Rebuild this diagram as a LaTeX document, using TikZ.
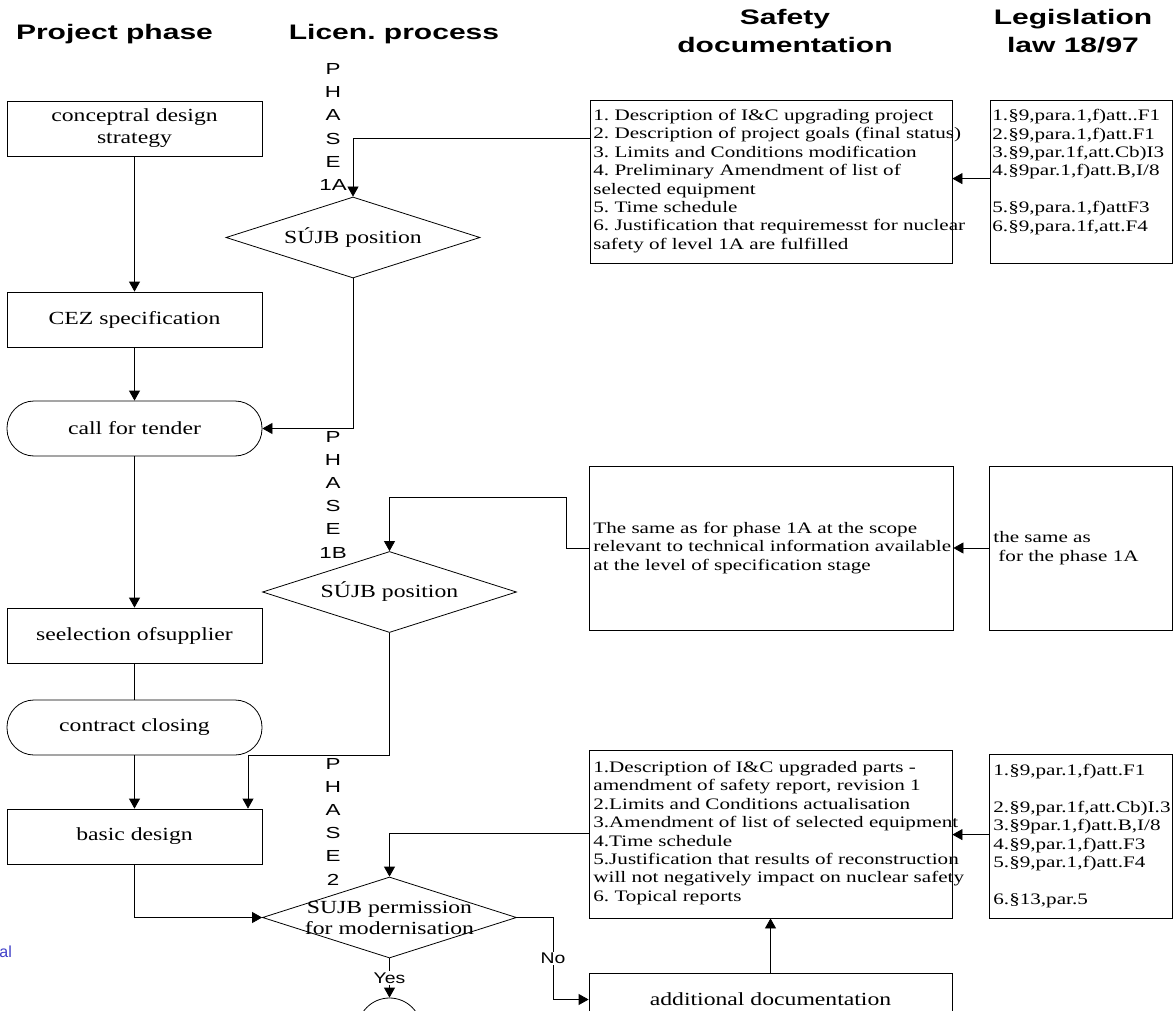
\documentclass[tikz,border=0pt]{standalone}
\usepackage{fontspec}
\setmainfont{Liberation Serif}
\newfontfamily\docfam[FakeStretch=1.32]{Liberation Serif}
\newfontfamily\boxfam[FakeStretch=1.28]{Liberation Serif}
\newfontfamily\hdrfam[FakeStretch=1.43]{Liberation Sans}
\newfontfamily\phfam[FakeStretch=1.4]{Liberation Sans}
\newfontfamily\ynfam[FakeStretch=1.25]{Liberation Sans}
\newfontfamily\alfam{Liberation Sans}
\usetikzlibrary{shapes.geometric,arrows.meta,calc}
\definecolor{alblue}{RGB}{64,64,200}
\frenchspacing
\tikzset{
  arr/.style={-{Triangle[length=10pt,width=11pt]}},
  hdr/.style={font={\hdrfam\bfseries\fontsize{21}{28}\selectfont}, inner sep=0pt, align=center},
  pbox/.style={draw, rectangle, minimum width=255pt, minimum height=55pt, inner sep=0pt,
    font={\boxfam\fontsize{18.5}{22}\selectfont}, align=center},
  stad/.style={pbox, rounded corners=27pt},
  dia/.style={draw, diamond, aspect=3.15, minimum width=254pt, minimum height=81pt, inner sep=0pt,
    font={\boxfam\fontsize{18.5}{21}\selectfont}, align=center},
  dbox/.style={draw, rectangle, inner sep=0pt},
  dtxt/.style={anchor=west, inner sep=0pt, align=left, font={\docfam\fontsize{16}{18.4}\selectfont\frenchspacing}},
  phase/.style={inner sep=0pt, align=center, font={\phfam\fontsize{16}{23.2}\selectfont}},
  yn/.style={fill=white, inner sep=1.5pt, font={\ynfam\fontsize{15.5}{15.5}\selectfont}},
}
\begin{document}
\begin{tikzpicture}[x=1pt,y=-1pt,line width=0.8pt]
\useasboundingbox (0,0) rectangle (1173,1011);
\clip (0,0) rectangle (1173,1011);

% headers
\node[hdr, anchor=base] (h1) at (114.5,40) {Project phase};
\node[hdr, anchor=base] (h2) at (394,40) {Licen. process};
\node[hdr] (h3) at (785,30.5) {Safety\\documentation};
\node[hdr] (h4) at (1073,31) {Legislation\\law 18/97};

% project phase column
\node[pbox] (cds) at (134.5,128.5) {conceptral design\\strategy};
\node[pbox] (cez) at (134.5,319.5) {CEZ specification};
\node[stad] (cft) at (134.5,428.5) {call for tender};
\node[pbox] (sel) at (134.5,635.5) {seelection ofsupplier};
\node[stad] (cc) at (134.5,727.5) {contract closing};
\node[pbox] (bd) at (134.5,836.5) {basic design};

% licensing column
\node[dia] (d1a) at (353,237.5) {SÚJB position};
\node[dia] (d1b) at (389.5,592) {SÚJB position};
\node[dia] (d2) at (389.5,917.5) {};
\node[inner sep=0pt, align=center, font={\boxfam\fontsize{18.5}{21}\selectfont}] (d2t) at (389.5,917.5) {SUJB permission\\for modernisation};
\node[draw, circle, minimum size=64pt, inner sep=0pt] (conn) at (389.5,1030) {};

\node[phase] (p1a) at (333,127) {P\\H\\A\\S\\E\\1A};
\node[phase] (p1b) at (333,494.5) {P\\H\\A\\S\\E\\1B};
\node[phase] (p2) at (333,821.5) {P\\H\\A\\S\\E\\2};

% safety documentation
\node[dbox, minimum width=362pt, minimum height=163pt] (s1) at (771,181.5) {};
\node[dtxt] (s1t) at (593,181) {1. Description of I\&C upgrading project\\2. Description of project goals (final status)\\3. Limits and Conditions modification\\4. Preliminary Amendment of list of\\selected equipment\\5. Time schedule\\6. Justification that requiremesst for nuclear\\safety of level 1A are fulfilled};

\node[dbox, minimum width=364pt, minimum height=164pt] (s2) at (771,548) {};
\node[dtxt] (s2t) at (593,548) {The same as for phase 1A at the scope\\relevant to technical information available\\at the level of specification stage};

\node[dbox, minimum width=363pt, minimum height=168pt] (s3) at (770.5,834) {};
\node[dtxt] (s3t) at (593,833) {1.Description of I\&C upgraded parts -\\amendment of safety report, revision 1\\2.Limits and Conditions actualisation\\3.Amendment of list of selected equipment\\4.Time schedule\\5.Justification that results of reconstruction\\will not negatively impact on nuclear safety\\6. Topical reports};

\node[dbox, minimum width=363pt, minimum height=53pt, font={\boxfam\fontsize{18.5}{22}\selectfont}] (ad) at (770.5,999.5) {additional documentation};

% legislation
\node[dbox, minimum width=182pt, minimum height=163pt] (l1) at (1081,181.5) {};
\node[dtxt] (l1t) at (992,172) {1.§9,para.1,f)att..F1\\2.§9,para.1,f)att.F1\\3.§9,par.1f,att.Cb)I3\\4.§9par.1,f)att.B,I/8\\[18.4pt]5.§9,para.1,f)attF3\\6.§9,para.1f,att.F4};

\node[dbox, minimum width=183pt, minimum height=164pt] (l2) at (1080.5,548) {};
\node[dtxt] (l2t) at (993,548) {the same as\\\hspace{5pt}for the phase 1A};

\node[dbox, minimum width=183pt, minimum height=164pt] (l3) at (1080.5,836) {};
\node[dtxt] (l3t) at (993,836) {1.§9,par.1,f)att.F1\\[18.4pt]2.§9,par.1f,att.Cb)I.3\\3.§9par.1,f)att.B,I/8\\4.§9,par.1,f)att.F3\\5.§9,par.1,f)att.F4\\[18.4pt]6.§13,par.5};

% stray fragment at left
\node[anchor=west, inner sep=0pt, text=alblue, font={\alfam\fontsize{16}{16}\selectfont}] (al) at (-1,952) {al};

% connectors
\draw[arr] (cds.south) -- (cez.north);
\draw[arr] (cez.south) -- (cft.north);
\draw[arr] ($(s1.north west)+(0,39)$) -| (d1a.north);
\draw[arr] ($(l1.north west)+(0,79)$) -- ($(s1.north east)+(0,79)$);
\draw[arr] (d1a.south) |- (cft.east);
\draw[arr] (cft.south) -- (sel.north);
\draw (sel.south) -- (cc.north);
\draw[arr] (cc.south) -- (bd.north);
\draw[arr] (s2.west) -- ++(-22,0) -- ++(0,-51) -| (d1b.north);
\draw[arr] (l2.west) -- (s2.east);
\coordinate (j1) at (248,755);
\draw[arr] (d1b.south) |- (j1) -- (j1 |- bd.north);
\draw[arr] (bd.south) |- (d2.west);
\draw[arr] ($(s3.north west)+(0,84)$) -| (d2.north);
\draw[arr] ($(l3.north west)+(0,81)$) -- ($(s3.north east)+(0,85)$);
\draw[arr] (d2.east) -- ++(36,0) |- (ad.west) node[yn, pos=0.25] (nol) {No};
\draw[arr] (d2.south) -- (conn.north) node[yn, midway] (yesl) {Yes};
\draw[arr] (ad.north) -- (s3.south);
\end{tikzpicture}
\end{document}
